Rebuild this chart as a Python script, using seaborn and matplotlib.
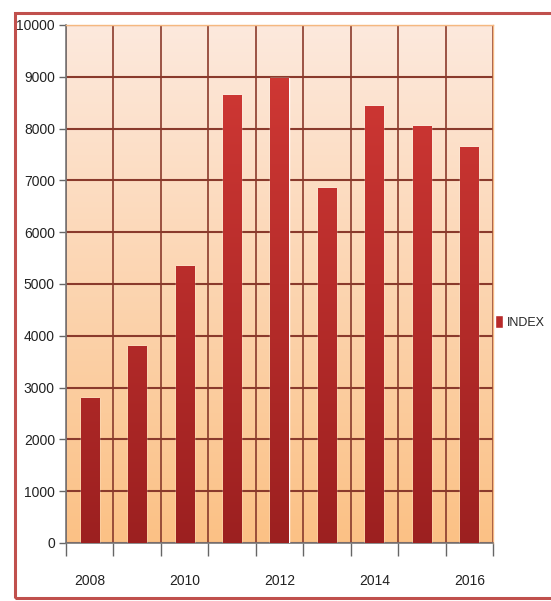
import numpy as np
import pandas as pd
import matplotlib
matplotlib.use("Agg")
import matplotlib.pyplot as plt
import seaborn as sns
from matplotlib.colors import LinearSegmentedColormap
from matplotlib.patches import Rectangle

years = ["2008", "2009", "2010", "2011", "2012", "2013", "2014", "2015", "2016"]
index_values = [2800, 3800, 5350, 8650, 8980, 6850, 8430, 8050, 7650]
y_ticks = [0, 1000, 2000, 3000, 4000, 5000, 6000, 7000, 8000, 9000, 10000]
x_label_years = ["2008", "2010", "2012", "2014", "2016"]

sns.set_style("white")
plt.rcParams['font.family'] = ['Liberation Sans', 'DejaVu Sans']

df = pd.DataFrame({"year": years, "INDEX": index_values})

fig = plt.figure(figsize=(5.51, 6.01), dpi=100)
ax = fig.add_axes([66/551, 1-543/601, (493-66)/551, (543-25)/601])

sns.barplot(data=df, x="year", y="INDEX", color="#b82a2a", width=0.38,
            ax=ax, zorder=3, label="INDEX", saturation=1)

ax.set_xlim(-0.5, len(years) - 0.5)
ax.set_ylim(0, 10000)

# background gradient
bg = LinearSegmentedColormap.from_list("bg", ["#fbc185", "#fde9dd"])
grad = np.linspace(0, 1, 256).reshape(-1, 1)
ax.imshow(grad, cmap=bg, origin="lower", aspect="auto",
          extent=(-0.5, len(years) - 0.5, 0, 10000), zorder=0)

# bar gradient
barcm = LinearSegmentedColormap.from_list("bar", ["#9c2020", "#d43a36"])
for p in ax.patches:
    x0 = p.get_x()
    w = p.get_width()
    im = ax.imshow(grad, cmap=barcm, origin="lower", aspect="auto",
                   extent=(x0, x0 + w, 0, 10000), zorder=4)
    im.set_clip_path(p)

ax.set_xlim(-0.5, len(years) - 0.5)
ax.set_ylim(0, 10000)

# ticks and grid
ax.set_yticks(y_ticks)
ax.set_yticklabels([str(v) for v in y_ticks])
major_pos = [years.index(y) for y in x_label_years]
ax.set_xticks(major_pos)
ax.set_xticklabels(x_label_years)
ax.set_xticks(np.arange(-0.5, len(years)), minor=True)
ax.tick_params(axis="x", which="major", bottom=True, length=0, pad=22, labelsize=10, colors="#222222")
ax.tick_params(axis="x", which="minor", bottom=True, length=9, width=1, color="#666666")
ax.tick_params(axis="y", which="major", left=True, length=5, width=1, labelsize=10, pad=3,
               color="#666666", labelcolor="#222222")
ax.grid(axis="y", which="major", color="#8a3a2c", linewidth=1.5, zorder=1)
ax.grid(axis="x", which="minor", color="#8a3a2c", linewidth=1.2, zorder=1)
ax.grid(axis="x", which="major", visible=False)
ax.set_axisbelow(True)
ax.set_xlabel("")
ax.set_ylabel("")

for s in ["left", "bottom"]:
    ax.spines[s].set_color("#777777")
    ax.spines[s].set_linewidth(1.2)
for s in ["top", "right"]:
    ax.spines[s].set_color("#f5b880")
    ax.spines[s].set_linewidth(1.0)

handles = [Rectangle((0, 0), 1, 1, facecolor="#b82a2a")]
ax.legend(handles, ["INDEX"], loc="center left", bbox_to_anchor=(0.985, 0.427),
          frameon=False, handlelength=0.6, handleheight=1.2, handletextpad=0.35,
          fontsize=9, borderaxespad=0.3)

# outer border
fig.patches.append(Rectangle((15/551, 1-598/601), 1.0, (598-13)/601,
                             transform=fig.transFigure, fill=False,
                             edgecolor="#c0504d", linewidth=2.2, zorder=10))

fig.savefig("out.png", dpi=100)
